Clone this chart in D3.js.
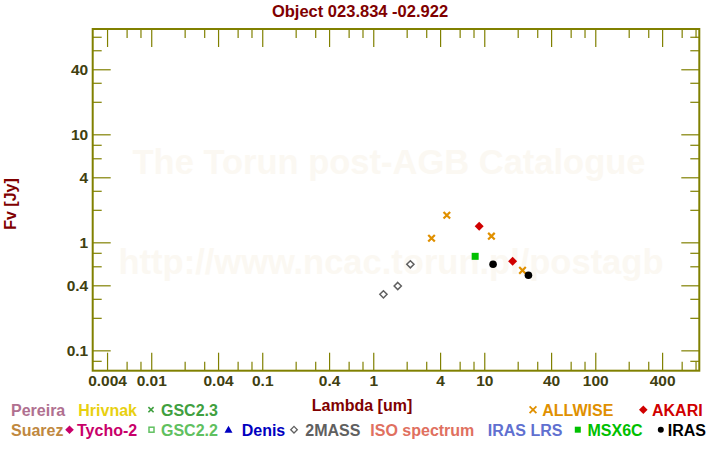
<!DOCTYPE html>
<html><head><meta charset="utf-8">
<script src="https://cdn.jsdelivr.net/npm/d3@7"></script>
<style>body{margin:0;background:#fff}svg{display:block}text{font-family:"Liberation Sans",Arial,sans-serif;font-weight:bold}</style>
</head><body>
<script>
const title = "Object 023.834 -02.922";
// Series (wavelength in um, flux in Jy)
const twomassLambda = [1.235, 1.662, 2.159];
const twomassFlux = [0.33, 0.394, 0.626];
const allwiseLambda = [3.35, 4.6, 11.6, 22.1];
const allwiseFlux = [1.09, 1.78, 1.14, 0.55];
const akariLambda = [9, 18];
const akariFlux = [1.41, 0.667];
const msxLambda = [8.28];
const msxFlux = [0.742];
const irasLambda = [12, 25];
const irasFlux = [0.626, 0.495];

const xMajorTicks = [0.004,0.01,0.04,0.1,0.4,1,4,10,40,100,400];
const xMinorTicks = [0.006,0.008,0.02,0.03,0.06,0.08,0.2,0.3,0.6,0.8,2,3,6,8,20,30,60,80,200,300,600,800];
const yMajorTicks = [0.1,0.4,1,4,10,40];
const yMinorTicks = [0.08,0.2,0.3,0.6,0.8,2,3,6,8,20,30,60,80];

const W = 720, H = 450;
const L = 92.7, R = 699.3, T = 29, B = 370.7;
const olive = "#808000", lblCol = "#404010", dred = "#800000";

const svg = d3.select("body").append("svg").attr("width", W).attr("height", H);
const x = d3.scaleLog().domain([0.00297, 865]).range([L, R]);
const y = d3.scaleLog().domain([0.0648, 94.4]).range([B, T]);

// watermark
svg.append("text").attr("x", 389).attr("y", 174).attr("text-anchor","middle")
  .attr("font-size", 34.5).attr("fill", "#fbf8f2").text("The Torun post-AGB Catalogue");
svg.append("text").attr("x", 391).attr("y", 274).attr("text-anchor","middle")
  .attr("font-size", 34.5).attr("fill", "#fbf8f2").text("http://www.ncac.torun.pl/postagb");

// title
svg.append("text").attr("x", 360).attr("y", 17).attr("text-anchor","middle")
  .attr("font-size", 16.5).attr("fill", dred).text(title);

const fmt = d => String(d);
function styleAxis(g){ g.select(".domain").remove(); g.selectAll("line").attr("stroke", olive).attr("stroke-width", 1.2); }

// bottom
svg.append("g").attr("transform", `translate(0,${B})`)
  .call(d3.axisBottom(x).tickValues(xMajorTicks).tickSize(-18).tickPadding(0).tickFormat(fmt))
  .call(styleAxis)
  .call(g => g.selectAll("text").attr("y", 15.5).attr("dy", 0).attr("font-size", 15.5).attr("fill", lblCol).attr("font-family", null));
svg.append("g").attr("transform", `translate(0,${B})`)
  .call(d3.axisBottom(x).tickValues(xMinorTicks).tickSize(-9).tickFormat("")).call(styleAxis);
// top
svg.append("g").attr("transform", `translate(0,${T})`)
  .call(d3.axisTop(x).tickValues(xMajorTicks).tickSize(-18).tickFormat("")).call(styleAxis);
svg.append("g").attr("transform", `translate(0,${T})`)
  .call(d3.axisTop(x).tickValues(xMinorTicks).tickSize(-9).tickFormat("")).call(styleAxis);
// left
svg.append("g").attr("transform", `translate(${L},0)`)
  .call(d3.axisLeft(y).tickValues(yMajorTicks).tickSize(-18).tickPadding(0).tickFormat(fmt))
  .call(styleAxis)
  .call(g => g.selectAll("text").attr("x", -4.5).attr("dy", "0.36em").attr("font-size", 15.5).attr("fill", lblCol).attr("font-family", null));
svg.append("g").attr("transform", `translate(${L},0)`)
  .call(d3.axisLeft(y).tickValues(yMinorTicks).tickSize(-9).tickFormat("")).call(styleAxis);
// right
svg.append("g").attr("transform", `translate(${R},0)`)
  .call(d3.axisRight(y).tickValues(yMajorTicks).tickSize(-18).tickFormat("")).call(styleAxis);
svg.append("g").attr("transform", `translate(${R},0)`)
  .call(d3.axisRight(y).tickValues(yMinorTicks).tickSize(-9).tickFormat("")).call(styleAxis);

// frame
svg.append("rect").attr("x", L).attr("y", T).attr("width", R-L).attr("height", B-T)
  .attr("fill","none").attr("stroke", olive).attr("stroke-width", 2);

// axis titles
svg.append("text").attr("x", 362).attr("y", 410.5).attr("text-anchor","middle")
  .attr("font-size", 16).attr("fill", dred).text("Lambda [um]");
svg.append("text").attr("transform", "translate(16,204) rotate(-90)").attr("text-anchor","middle")
  .attr("font-size", 16).attr("fill", dred).text("Fv [Jy]");

// markers
const pts = (lx, fy) => lx.map((l,i)=>({l, f: fy[i]}));
const crossPath = s => `M${-s},${-s}L${s},${s}M${-s},${s}L${s},${-s}`;
const diamondPath = s => `M0,${-s}L${s},0L0,${s}L${-s},0Z`;

svg.append("g").selectAll("path").data(pts(twomassLambda, twomassFlux)).join("path")
  .attr("transform", d=>`translate(${x(d.l)},${y(d.f)})`).attr("d", diamondPath(3.6))
  .attr("fill","#fff").attr("stroke","#606060").attr("stroke-width",1.5);
svg.append("g").selectAll("path").data(pts(allwiseLambda, allwiseFlux)).join("path")
  .attr("transform", d=>`translate(${x(d.l)},${y(d.f)})`).attr("d", crossPath(3.3))
  .attr("fill","none").attr("stroke","#e09000").attr("stroke-width",2.2);
svg.append("g").selectAll("path").data(pts(akariLambda, akariFlux)).join("path")
  .attr("transform", d=>`translate(${x(d.l)},${y(d.f)})`).attr("d", diamondPath(4.5))
  .attr("fill","#d00000");
svg.append("g").selectAll("rect").data(pts(msxLambda, msxFlux)).join("rect")
  .attr("x", d=>x(d.l)-3.5).attr("y", d=>y(d.f)-3.5).attr("width",7).attr("height",7)
  .attr("fill","#00c000");
svg.append("g").selectAll("circle").data(pts(irasLambda, irasFlux)).join("circle")
  .attr("cx", d=>x(d.l)).attr("cy", d=>y(d.f)).attr("r",3.8).attr("fill","#000");

// legend
const lg = svg.append("g").attr("font-size", 16);
const row1 = 415.7, row2 = 435.7;
function ltext(xp, yp, t, c){ lg.append("text").attr("x", xp).attr("y", yp).attr("fill", c).text(t); }
ltext(11, row1, "Pereira", "#b07090");
ltext(78.3, row1, "Hrivnak", "#e8d010");
lg.append("path").attr("transform",`translate(151,${row1-6})`).attr("d", crossPath(2.6)).attr("stroke","#40a040").attr("stroke-width",1.6);
ltext(161, row1, "GSC2.3", "#40a040");
lg.append("path").attr("transform",`translate(533,${row1-6})`).attr("d", crossPath(3.4)).attr("stroke","#e09000").attr("stroke-width",1.8);
ltext(542.2, row1, "ALLWISE", "#e09000");
lg.append("path").attr("transform",`translate(643.3,${row1-6})`).attr("d", diamondPath(4.3)).attr("fill","#d00000");
ltext(652, row1, "AKARI", "#d00000");

ltext(11, row2, "Suarez", "#c08840");
lg.append("path").attr("transform",`translate(69.5,${row2-6})`).attr("d", diamondPath(4.3)).attr("fill","#c8006a");
ltext(77, row2, "Tycho-2", "#c8006a");
lg.append("rect").attr("x",149).attr("y",row2-8.5).attr("width",5).attr("height",5).attr("fill","none").attr("stroke","#60c060").attr("stroke-width",1.5);
ltext(161, row2, "GSC2.2", "#60c060");
lg.append("path").attr("transform",`translate(228.5,${row2-6})`).attr("d", "M0,-4L4,3L-4,3Z").attr("fill","#0000c0");
ltext(241.7, row2, "Denis", "#0000c0");
lg.append("path").attr("transform",`translate(294,${row2-6})`).attr("d", diamondPath(3.3)).attr("fill","#fff").attr("stroke","#606060").attr("stroke-width",1.3);
ltext(305.3, row2, "2MASS", "#606060");
ltext(370.3, row2, "ISO spectrum", "#e07060");
ltext(487.8, row2, "IRAS LRS", "#6070d0");
lg.append("rect").attr("x",574.8).attr("y",row2-9).attr("width",6).attr("height",6).attr("fill","#00c000");
ltext(587.5, row2, "MSX6C", "#00c000");
lg.append("circle").attr("cx",660.8).attr("cy",row2-6).attr("r",3).attr("fill","#000");
ltext(667.7, row2, "IRAS", "#000");
</script>
</body></html>
